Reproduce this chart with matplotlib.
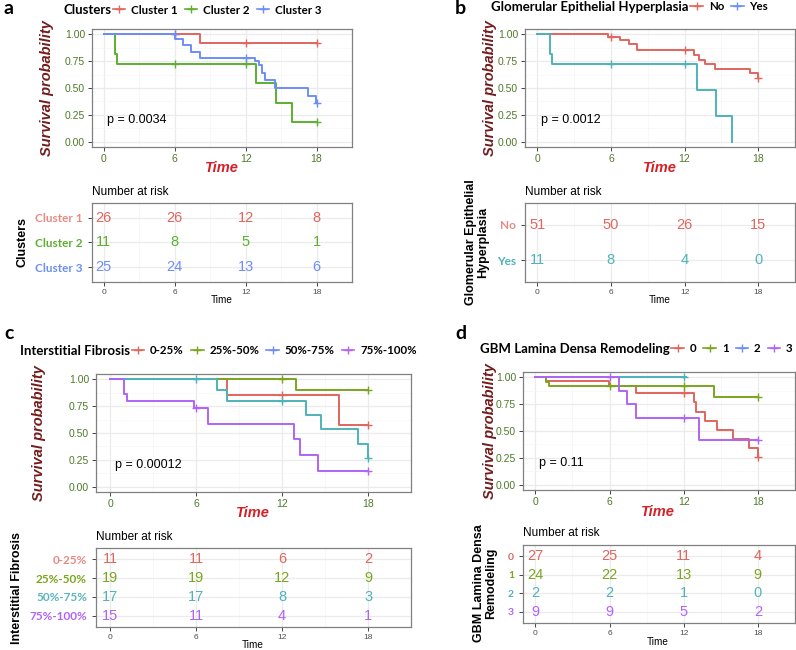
import numpy as np
import matplotlib.pyplot as plt
from matplotlib.lines import Line2D

plt.rcParams['font.family'] = 'Liberation Sans'

# ---- data ----
times_at_risk = [0, 6, 12, 18]

# a: clusters
a_groups = ["Cluster 1", "Cluster 2", "Cluster 3"]
a_t = [[0, 8.1, 18],
       [0, 0.95, 1.15, 12.85, 14.6, 15.9, 18],
       [0, 6.05, 6.7, 7.4, 8.1, 12.75, 13.1, 13.35, 13.6, 14.5, 17.3, 17.95, 18]]
a_s = [[1.0, 0.923, 0.923],
       [1.0, 0.818, 0.727, 0.545, 0.364, 0.182, 0.182],
       [1.0, 0.96, 0.90, 0.84, 0.78, 0.75, 0.71, 0.64, 0.57, 0.50, 0.43, 0.36, 0.36]]
a_cens = [[6, 12, 18], [6, 12, 18], [6, 12, 18]]
a_risk = [[26, 26, 12, 8], [11, 8, 5, 1], [25, 24, 13, 6]]
a_p = "p = 0.0034"

# b: glomerular epithelial hyperplasia
b_groups = ["No", "Yes"]
b_t = [[0, 5.8, 6.75, 7.5, 8.15, 12.8, 13.2, 13.7, 14.45, 17.35, 17.95, 18],
       [0, 1.0, 1.2, 13.0, 14.6, 15.9]]
b_s = [[1.0, 0.98, 0.945, 0.91, 0.85, 0.81, 0.765, 0.72, 0.68, 0.64, 0.59, 0.59],
       [1.0, 0.818, 0.727, 0.485, 0.242, 0.0]]
b_cens = [[6, 12, 18], [6, 12]]
b_risk = [[51, 50, 26, 15], [11, 8, 4, 0]]
b_p = "p = 0.0012"

# c: interstitial fibrosis
c_groups = ["0-25%", "25%-50%", "50%-75%", "75%-100%"]
c_t = [[0, 8.15, 15.98, 18],
       [0, 13.0, 18],
       [0, 7.45, 8.15, 13.65, 14.7, 17.33, 17.97, 18],
       [0, 0.95, 1.18, 5.83, 6.8, 12.8, 13.25, 14.47, 18]]
c_s = [[1.0, 0.857, 0.571, 0.571],
       [1.0, 0.90, 0.90],
       [1.0, 0.90, 0.80, 0.67, 0.535, 0.40, 0.267, 0.267],
       [1.0, 0.867, 0.80, 0.733, 0.587, 0.44, 0.293, 0.147, 0.147]]
c_cens = [[12, 18], [12, 18], [6, 12, 18], [6, 18]]
c_risk = [[11, 11, 6, 2], [19, 19, 12, 9], [17, 17, 8, 3], [15, 11, 4, 1]]
c_p = "p = 0.00012"

# d: GBM lamina densa remodeling
d_groups = ["0", "1", "2", "3"]
d_t = [[0, 0.9, 5.94, 8.1, 12.8, 13.0, 13.7, 14.7, 15.96, 17.3, 17.97, 18],
       [0, 0.9, 1.1, 14.46, 18],
       [0, 12.2],
       [0, 6.75, 7.43, 8.14, 13.2, 18]]
d_s = [[1.0, 0.963, 0.92, 0.85, 0.766, 0.68, 0.594, 0.51, 0.425, 0.34, 0.255, 0.255],
       [1.0, 0.958, 0.917, 0.82, 0.82],
       [1.0, 1.0],
       [1.0, 0.875, 0.75, 0.625, 0.417, 0.417]]
d_cens = [[12, 18], [6, 12, 18], [12], [6, 12, 18]]
d_risk = [[27, 25, 11, 4], [24, 22, 13, 9], [2, 2, 1, 0], [9, 9, 5, 2]]
d_p = "p = 0.11"

RED, GREEN, BLUE = "#E0665E", "#5BB030", "#6D8EF7"
TEAL, OLIVE, PURPLE = "#4DB3B8", "#7AA61E", "#B163F7"

W, H = 796, 650
fig = plt.figure(figsize=(W / 100, H / 100), dpi=100)


def box(x0, y0, x1, y1):
    return [x0 / W, 1 - y1 / H, (x1 - x0) / W, (y1 - y0) / H]


def txt(x, y, s, **kw):
    return fig.text(x / W, 1 - y / H, s, **kw)


def style_grid(ax):
    ax.set_xlim(-1, 21)
    ax.set_xticks(times_at_risk)
    ax.set_xticks([3, 9, 15], minor=True)
    ax.grid(which='major', color='#EBEBEB', lw=0.9)
    ax.grid(which='minor', color='#F5F5F5', lw=0.5)
    ax.set_axisbelow(True)
    ax.tick_params(which='minor', length=0)
    ax.tick_params(which='major', length=3, width=0.7, color='#444444')
    for sp in ax.spines.values():
        sp.set_color('#808080')
        sp.set_linewidth(0.9)


def km(rect, ts, ss, cens, colors, pval):
    ax = fig.add_axes(rect)
    style_grid(ax)
    ax.set_ylim(-0.05, 1.05)
    ax.set_yticks([0, 0.25, 0.5, 0.75, 1.0])
    ax.set_yticks([0.125, 0.375, 0.625, 0.875], minor=True)
    ax.set_yticklabels(["0.00", "0.25", "0.50", "0.75", "1.00"])
    ax.tick_params(labelsize=7.5, labelcolor='#4E7A29', pad=2)
    for t, s, c, col in zip(ts, ss, cens, colors):
        ax.step(t, s, where='post', color=col, lw=1.4)
        idx = np.searchsorted(t, c, side='right') - 1
        ax.plot(c, np.array(s)[idx], '+', color=col, ms=6, mew=1.0)
    ax.text(0.3, 0.2, pval, fontsize=9, ha='left', va='center')
    return ax


def risk(rect, groups, counts, colors, label_colors, label_size=8.5):
    ax = fig.add_axes(rect)
    style_grid(ax)
    n = len(groups)
    rows = np.arange(n, 0, -1)
    ax.set_ylim(0.4, n + 0.6)
    ax.set_yticks(rows)
    ax.set_yticklabels(groups, fontfamily='Lato', fontweight='bold', fontsize=label_size)
    for lab, col in zip(ax.get_yticklabels(), label_colors):
        lab.set_color(col)
    ax.tick_params(axis='x', labelsize=6, labelcolor='#4D4D4D', pad=2)
    for r, cnt, col in zip(rows, counts, colors):
        for x, v in zip(times_at_risk, cnt):
            ax.text(x, r, str(v), color=col, fontsize=10.5, ha='center', va='center')
    return ax


def legend(x, y, title, groups, colors):
    t = txt(x, y, title, fontfamily='Lato', fontweight='bold', fontsize=9.5,
            ha='left', va='center')
    fig.canvas.draw()
    bb = t.get_window_extent()
    handles = [Line2D([], [], color=c, marker='+', ms=6, lw=1.2) for c in colors]
    fig.legend(handles, groups, loc='center left', ncol=len(groups),
               bbox_to_anchor=(bb.x1 / W, 1 - y / H), frameon=False,
               prop={'family': 'Lato', 'weight': 'bold', 'size': 8.3},
               handlelength=1.1, handletextpad=0.5, columnspacing=0.6,
               borderpad=0, borderaxespad=0.15)


def labels(ylab_xy, time_xy, nar_xy, rtime_xy, rlab_xy, rlab):
    txt(*ylab_xy, "Survival probability", rotation=90, ha='center', va='center',
        fontsize=10.5, fontweight='bold', fontstyle='italic', color='#731C1C')
    txt(*time_xy, "Time", ha='center', va='center', fontsize=10.5,
        fontweight='bold', fontstyle='italic', color='#D42027')
    txt(*nar_xy, "Number at risk", ha='left', va='center', fontsize=8.5)
    txt(*rtime_xy, "Time", ha='center', va='center', fontsize=7.2)
    txt(*rlab_xy, rlab, rotation=90, ha='center', va='center', fontsize=9,
        fontweight='bold', multialignment='center', linespacing=1.1)


# ---- panel a ----
km(box(92, 29, 352, 147), a_t, a_s, a_cens, [RED, GREEN, BLUE], a_p)
risk(box(92, 203, 352, 282), a_groups, a_risk, [RED, GREEN, BLUE],
     ["#E88A84", GREEN, BLUE])
labels((47, 88), (222, 168), (92, 192), (222, 300), (22, 242), "Clusters")
legend(63, 10, "Clusters", a_groups, [RED, GREEN, BLUE])

# ---- panel b ----
km(box(525, 29, 795, 147), b_t, b_s, b_cens, [RED, TEAL], b_p)
risk(box(525, 203, 795, 282), b_groups, b_risk, [RED, TEAL], ["#E88A84", TEAL])
labels((490, 88), (660, 168), (525, 192), (660, 300), (477, 242),
       "Glomerular Epithelial\nHyperplasia")
legend(491, 7, "Glomerular Epithelial Hyperplasia", b_groups, [RED, BLUE])

# ---- panel c ----
km(box(96, 374, 411, 492), c_t, c_s, c_cens, [RED, OLIVE, TEAL, PURPLE], c_p)
risk(box(96, 548, 411, 627), c_groups, c_risk, [RED, OLIVE, TEAL, PURPLE],
     ["#E88A84", OLIVE, "#5BB5BF", PURPLE])
labels((39, 433), (253, 513), (96, 537), (253, 645), (17, 588),
       "Interstitial Fibrosis")
legend(20, 351, "Interstitial Fibrosis", c_groups, [RED, OLIVE, BLUE, PURPLE])

# ---- panel d ----
km(box(523, 372, 795, 490), d_t, d_s, d_cens, [RED, OLIVE, TEAL, PURPLE], d_p)
risk(box(523, 545, 795, 623), d_groups, d_risk, [RED, OLIVE, TEAL, PURPLE],
     [RED, OLIVE, TEAL, PURPLE], label_size=7.5)
labels((490, 431), (658, 512), (523, 533), (658, 642), (485, 583),
       "GBM Lamina Densa\nRemodeling")
legend(480, 349, "GBM Lamina Densa Remodeling", d_groups, [RED, OLIVE, BLUE, PURPLE])

# panel letters
for x, y, s in [(4, 9, "a"), (455, 9, "b"), (4, 333, "c"), (455, 333, "d")]:
    txt(x, y, s, fontfamily='Lato', fontweight='bold', fontsize=14, ha='left', va='center')

fig.savefig("out.png", dpi=100)
